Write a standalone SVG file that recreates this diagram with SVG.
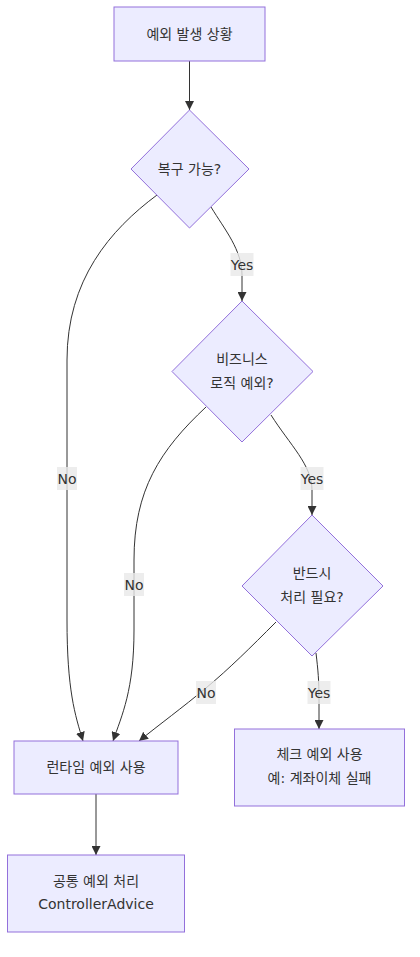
<svg xmlns="http://www.w3.org/2000/svg" width="420" height="957" viewBox="0 0 420 957">
<style>
.node rect, .node polygon { fill: #ECECFF; stroke: #9370DB; stroke-width: 1px; }
.node text { font-family: "DejaVu Sans", "Noto Sans CJK KR", sans-serif; font-size: 14px; fill: #333333; text-anchor: middle; dominant-baseline: central; }
.edge { fill: none; stroke: #333333; stroke-width: 1px; marker-end: url(#arrow); }
.lbl rect { fill: #e8e8e8; opacity: 0.8; }
.lbl text { font-family: "DejaVu Sans", "Noto Sans CJK KR", sans-serif; font-size: 14px; fill: #333333; text-anchor: middle; dominant-baseline: central; }
</style>
<defs>
<marker id="arrow" viewBox="0 0 10 10" refX="10" refY="5" markerWidth="9" markerHeight="9" markerUnits="userSpaceOnUse" orient="auto">
<path d="M0,0 L10,5 L0,10 z" fill="#333333"/>
</marker>
</defs>
<rect width="420" height="957" fill="#ffffff"/>
<g id="connectors">
<path class="edge" d="M189.5,61 L189.5,110"/>
<path class="edge" d="M157,195 C110,230 67,280 67,360 L67,620 C67,690 75,715 83,741"/>
<path class="edge" d="M211,207 C225,230 242,250 242,275 L242,301"/>
<path class="edge" d="M206,407 C160,450 134,490 134,560 L134,630 C134,690 122,715 113,741"/>
<path class="edge" d="M271,415 C290,445 312,465 312,490 L312,515"/>
<path class="edge" d="M276,622 C250,648 230,668 206,688 S160,724 139,741"/>
<path class="edge" d="M316,653 C318,670 319,680 319,700 L319,729"/>
<path class="edge" d="M96,794 L96,855"/>
</g>
<g id="edge-labels">
<g class="lbl"><rect x="57" y="467" width="20" height="23"/><text x="67" y="478.5">No</text></g>
<g class="lbl"><rect x="124" y="573" width="20" height="23"/><text x="134" y="584.5">No</text></g>
<g class="lbl"><rect x="230.5" y="253" width="23" height="23"/><text x="242" y="264.5">Yes</text></g>
<g class="lbl"><rect x="300.5" y="467" width="23" height="23"/><text x="312" y="478.5">Yes</text></g>
<g class="lbl"><rect x="196" y="681" width="20" height="23"/><text x="206" y="692.5">No</text></g>
<g class="lbl"><rect x="307.5" y="681" width="23" height="23"/><text x="319" y="692.5">Yes</text></g>
</g>
<g id="node-A" class="node">
<rect x="114" y="7" width="151" height="54"/>
<text x="189.5" y="34">예외 발생 상황</text>
</g>
<g id="node-B" class="node">
<polygon points="189.5,110 249,169 189.5,228 131,169"/>
<text x="189.5" y="169">복구 가능?</text>
</g>
<g id="node-C" class="node">
<polygon points="242,301 313,371.5 242,442 172,371.5"/>
<text x="242" y="359">비즈니스</text>
<text x="242" y="383">로직 예외?</text>
</g>
<g id="node-D" class="node">
<polygon points="312,515 383,586 312,656 242,586"/>
<text x="312" y="573">반드시</text>
<text x="312" y="597">처리 필요?</text>
</g>
<g id="node-E" class="node">
<rect x="14" y="741" width="164" height="53"/>
<text x="96" y="767">런타임 예외 사용</text>
</g>
<g id="node-F" class="node">
<rect x="234.5" y="729" width="170" height="77"/>
<text x="319.5" y="754">체크 예외 사용</text>
<text x="319.5" y="778">예: 계좌이체 실패</text>
</g>
<g id="node-G" class="node">
<rect x="7.5" y="855" width="177" height="77"/>
<text x="96" y="881">공통 예외 처리</text>
<text x="96" y="904">ControllerAdvice</text>
</g>
</svg>
